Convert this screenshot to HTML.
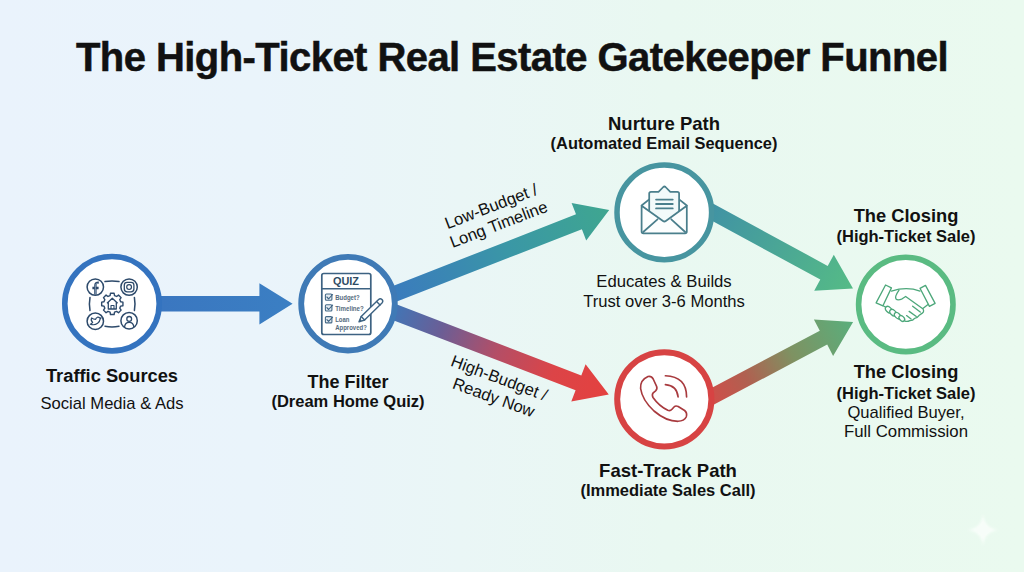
<!DOCTYPE html>
<html><head><meta charset="utf-8">
<style>
html,body{margin:0;padding:0;}
body{width:1024px;height:572px;overflow:hidden;position:relative;font-family:"Liberation Sans",sans-serif;color:#111;
background:linear-gradient(90deg,#eaf3fc 0%,#eaf4fb 25%,#eaf6f6 45%,#e9f8f1 65%,#eafaef 100%);}
svg{position:absolute;left:0;top:0;}
.t{position:absolute;white-space:nowrap;text-align:center;line-height:20px;height:20px;}
.b{font-weight:700;}
</style></head><body>
<svg width="1024" height="572" viewBox="0 0 1024 572">
<defs>
<linearGradient id="g1" gradientUnits="userSpaceOnUse" x1="150" y1="0" x2="292" y2="0"><stop offset="0" stop-color="#3a76c0"/><stop offset="1" stop-color="#3b7fc3"/></linearGradient>
<linearGradient id="g2" gradientUnits="userSpaceOnUse" x1="385" y1="297.6" x2="609" y2="210"><stop offset="0" stop-color="#3b7abf"/><stop offset="0.3" stop-color="#3a88b2"/><stop offset="0.55" stop-color="#3a97a6"/><stop offset="1" stop-color="#3fa690"/></linearGradient>
<linearGradient id="g3" gradientUnits="userSpaceOnUse" x1="385" y1="308.5" x2="609" y2="394.5"><stop offset="0" stop-color="#3b79bb"/><stop offset="0.25" stop-color="#6a5e96"/><stop offset="0.5" stop-color="#b44e66"/><stop offset="0.75" stop-color="#dc4447"/><stop offset="1" stop-color="#e4413f"/></linearGradient>
<linearGradient id="g4" gradientUnits="userSpaceOnUse" x1="700" y1="205" x2="853" y2="288"><stop offset="0" stop-color="#3f90a6"/><stop offset="1" stop-color="#55bb86"/></linearGradient>
<linearGradient id="g5" gradientUnits="userSpaceOnUse" x1="700" y1="401" x2="853" y2="322"><stop offset="0" stop-color="#d84a48"/><stop offset="0.3" stop-color="#b06050"/><stop offset="0.6" stop-color="#7e9262"/><stop offset="1" stop-color="#5aae7c"/></linearGradient>
</defs>
<!-- arrows -->
<path fill="url(#g1)" d="M150.0 311.6 L259.4 311.6 L259.4 324.4 L292.6 303.8 L259.4 283.2 L259.4 296.0 L150.0 296.0 Z"/>
<path fill="url(#g2)" d="M387.9 305.1 L581.9 229.2 L586.2 240.4 L609.2 209.9 L571.6 203.1 L576.0 214.3 L382.1 290.2 Z"/>
<path fill="url(#g3)" d="M382.1 315.9 L575.6 390.3 L571.3 401.5 L608.8 394.5 L585.6 364.2 L581.3 375.4 L387.9 301.1 Z"/>
<path fill="url(#g4)" d="M696.3 212.2 L820.3 279.6 L814.2 290.7 L853.0 288.5 L833.8 254.7 L827.7 265.9 L703.7 198.4 Z"/>
<path fill="url(#g5)" d="M703.7 410.0 L827.2 344.6 L833.1 355.9 L853.1 322.0 L813.9 319.5 L819.8 330.7 L696.3 396.0 Z"/>

<!-- circles -->
<circle cx="112" cy="303.7" r="47.2" fill="#fff" stroke="#3473bf" stroke-width="5.6"/>
<circle cx="348" cy="303.7" r="46.8" fill="#fff" stroke="#3f7ab6" stroke-width="5.8"/>
<circle cx="664.3" cy="212.4" r="47.3" fill="#fff" stroke="#4795a0" stroke-width="5.5"/>
<circle cx="664.3" cy="399.3" r="47.1" fill="#fff" stroke="#d74343" stroke-width="6"/>
<circle cx="905.8" cy="304.4" r="47.2" fill="#fff" stroke="#5abb82" stroke-width="5.6"/>

<!-- traffic icon -->
<g fill="none" stroke="#2d4a6b" stroke-width="1.5" stroke-linecap="round" stroke-linejoin="round">
  <circle cx="95.3" cy="287.1" r="8.2"/>
  <circle cx="129.1" cy="287.1" r="8.2"/>
  <circle cx="95.3" cy="321.2" r="8.2"/>
  <circle cx="129.1" cy="320.7" r="8.2"/>
  <path d="M105 281.6 Q112 280.2 119 281.6"/>
  <path d="M105 326.2 Q112 327.6 119 326.2"/>
  <path d="M90 297.5 Q88.8 303.9 90 310.5"/>
  <path d="M134.4 297.5 Q135.6 303.9 134.4 310.5"/>
</g>
<path d="M95.4 294.6 V285.2 Q95.4 282.4 98.8 282.6 M92.4 288 H98.6" fill="none" stroke="#2d4a6b" stroke-width="2.4"/><path d="M95.4 294 V285.4 Q95.4 283.3 98.4 283.4" fill="none" stroke="#9fb5cc" stroke-width="0.7"/>
<rect x="124.3" y="282.3" width="9.6" height="9.6" rx="2.8" fill="none" stroke="#2d4a6b" stroke-width="1.3"/>
<circle cx="129.1" cy="287.1" r="2.4" fill="none" stroke="#2d4a6b" stroke-width="1.2"/>
<path d="M90.3 324.2 Q94.5 325.6 97.6 323.3 Q99.9 321.4 100.1 319.1 L101.1 317.8 L99.7 318 Q98.8 316.9 97.5 317.2 Q95.9 317.7 95.6 319.4 Q93.4 319.3 91.6 318 Q90.4 320.6 92.7 322.4 Q91.6 323.7 90.3 324.2 Z" fill="none" stroke="#2d4a6b" stroke-width="1.2" stroke-linejoin="round"/>
<circle cx="129.2" cy="318.9" r="2.4" fill="none" stroke="#2d4a6b" stroke-width="1.3"/>
<path d="M124.5 327.3 Q125 322.4 129.2 322.4 Q133.4 322.4 133.9 327.3" fill="none" stroke="#2d4a6b" stroke-width="1.3"/>
<g fill="none" stroke="#2d4a6b" stroke-width="1.4" stroke-linejoin="round">
  <path d="M120.61 301.69 L122.94 302.07 L122.94 305.73 L120.61 306.11 L119.74 308.21 L121.12 310.13 L118.53 312.72 L116.61 311.34 L114.51 312.21 L114.13 314.54 L110.47 314.54 L110.09 312.21 L107.99 311.34 L106.07 312.72 L103.48 310.13 L104.86 308.21 L103.99 306.11 L101.66 305.73 L101.66 302.07 L103.99 301.69 L104.86 299.59 L103.48 297.67 L106.07 295.08 L107.99 296.46 L110.09 295.59 L110.47 293.26 L114.13 293.26 L114.51 295.59 L116.61 296.46 L118.53 295.08 L121.12 297.67 L119.74 299.59 Z"/>
  <path d="M107 303.3 L112.3 298.2 L117.6 303.3 M108.3 302.2 V309 H116.3 V302.2" stroke-width="1.3"/>
  <path d="M111 309 V305.5 H114 V309" stroke-width="1.1"/>
</g>

<!-- quiz icon -->
<g fill="none" stroke="#3d6282" stroke-width="1.7" stroke-linejoin="round">
  <rect x="321.8" y="273.5" width="49" height="61" rx="2"/>
  <path d="M322 288.8 H370.5" stroke-width="1.6"/>
</g>
<g fill="#e3eaf0" stroke="#456a88" stroke-width="1.1" stroke-linejoin="round">
  <rect x="325.4" y="294" width="6.5" height="6.3" rx="1"/>
  <rect x="325.4" y="304.7" width="6.5" height="6.3" rx="1"/>
  <rect x="325.4" y="316.6" width="6.5" height="6.3" rx="1"/>
</g>
<g fill="none" stroke="#3d6282" stroke-width="1.1" stroke-linecap="round" stroke-linejoin="round">
  <path d="M326.9 297 l1.7 1.8 l4 -4.3"/>
  <path d="M326.9 307.7 l1.7 1.8 l4 -4.3"/>
  <path d="M326.9 319.6 l1.7 1.8 l4 -4.3"/>
</g>
<g fill="#fff" stroke="#3d6282" stroke-width="1.4" stroke-linejoin="round" stroke-linecap="round">
  <path d="M359 321.8 L361.2 316.6 L378.6 299.5 Q380.3 297.9 382 299.6 Q383.6 301.3 382 303 L364.6 320 Z"/>
  <path d="M361.2 316.6 L364.6 320"/>
  <path d="M376.6 301.6 L380 305"/>
</g>
<path d="M359 321.8 L360.2 318.8 L362 320.6 Z" fill="#3d6282"/>
<text x="333" y="284.9" font-family="Liberation Sans" font-size="10.2" font-weight="700" fill="#2e4b64" textLength="26" lengthAdjust="spacingAndGlyphs">QUIZ</text>
<g font-family="Liberation Sans" font-size="7.3" font-weight="700" fill="#566b7d">
<text x="335.2" y="300.2" textLength="24.4" lengthAdjust="spacingAndGlyphs">Budget?</text>
<text x="335.2" y="311" textLength="28.6" lengthAdjust="spacingAndGlyphs">Timeline?</text>
<text x="335.2" y="322.2" textLength="14.3" lengthAdjust="spacingAndGlyphs">Loan</text>
<text x="335.2" y="329.6" textLength="31.6" lengthAdjust="spacingAndGlyphs">Approved?</text>
</g>

<!-- envelope icon -->
<g fill="none" stroke="#4a7f8c" stroke-width="1.75" stroke-linejoin="round" stroke-linecap="round">
  <path d="M641.6 205.5 L649.2 199.4 M686.8 205.5 L679.1 199.4"/>
  <path fill="#f2fafa" d="M649.2 222 V193.6 Q649.2 191.8 651 191.8 H658.5 L663.3 187 Q664.4 186 665.5 187 L670.3 191.8 H677.3 Q679.1 191.8 679.1 193.6 V222 Z"/>
  <path d="M656.1 199.6 H672.7 M656.1 204 H672.7 M656.1 208.4 H672.7" stroke-width="1.9"/>
  <path fill="#fcfefe" d="M641.6 205.8 L663 221 Q664.4 222 665.8 221 L686.8 205.8 V231.6 Q686.8 233.4 685 233.4 H643.4 Q641.6 233.4 641.6 231.6 Z"/>
  <path d="M643.2 232 L657.5 219.3 M685.2 232 L671.3 219.3"/>
</g>

<!-- phone icon -->
<g fill="none" stroke="#a83a3e" stroke-width="1.65" stroke-linecap="round" stroke-linejoin="round">
  <path d="M648 376.5 Q651.5 375.8 653.2 379 L656.6 386.3 Q657.6 389 655.6 390.8 L653.2 392.8 Q651.6 394.8 653 397.5 Q659 406 667.8 410.3 Q670.2 411.3 672 409.3 L674 407 Q675.6 405.3 678.2 406.5 L684.6 410.5 Q687.6 413 686.2 417 Q684.2 421 678 421.3 Q666 421.3 654 411 Q642.2 400 640.6 388.5 Q640 380 648 376.5 Z"/>
  <path d="M665.4 384.6 Q677 385.6 678.1 396.9"/>
  <path d="M665.4 375.8 Q686.5 376.5 686.6 396.9"/>
</g>

<!-- handshake icon -->
<g transform="translate(870 278) scale(0.0874)" fill="#fff" stroke="#4ca77a" stroke-width="15" stroke-linejoin="round" stroke-linecap="round">
  <path d="M245 150 Q420 95 572 150" fill="none"/>
  <path d="M150 318 L200 345 M660 305 L605 348" fill="none"/>
  <path d="M332 140 Q280 215 298 240 Q318 262 368 238 L408 212 L600 348 Q628 378 598 402 L560 430 Q540 460 510 462 Q490 490 455 488 Q425 505 395 490" fill="none"/>
  <path d="M488 322 L575 390 M448 382 L530 440 M418 430 L470 470" fill="none"/>
  <ellipse cx="214" cy="362" rx="44" ry="29" transform="rotate(45 214 362)"/>
  <ellipse cx="264" cy="397" rx="44" ry="29" transform="rotate(45 264 397)"/>
  <ellipse cx="315" cy="431" rx="42" ry="28" transform="rotate(45 315 431)"/>
  <ellipse cx="364" cy="463" rx="38" ry="26" transform="rotate(45 364 463)"/>
  <path d="M178 80 L245 113 L148 318 L70 285 Z"/>
  <path d="M572 118 L635 85 L745 290 L680 325 Z"/>
</g>
</svg>

<div class="t b" style="left:1px;width:1022px;top:35px;font-size:40px;line-height:44px;height:44px;letter-spacing:-0.56px;-webkit-text-stroke:0.5px #111">The High-Ticket Real Estate Gatekeeper Funnel</div>

<div class="t b" style="left:12px;width:200px;top:366px;font-size:18.3px">Traffic Sources</div>
<div class="t" style="left:12px;width:200px;top:394px;font-size:16.6px">Social Media &amp; Ads</div>

<div class="t b" style="left:248px;width:200px;top:372px;font-size:18px">The Filter</div>
<div class="t b" style="left:248px;width:200px;top:391px;font-size:16.5px">(Dream Home Quiz)</div>

<div class="t b" style="left:564px;width:200px;top:114px;font-size:18.5px">Nurture Path</div>
<div class="t b" style="left:544px;width:240px;top:133px;font-size:16.4px">(Automated Email Sequence)</div>
<div class="t" style="left:564px;width:200px;top:272px;font-size:16.7px">Educates &amp; Builds</div>
<div class="t" style="left:564px;width:200px;top:292px;font-size:16.6px">Trust over 3-6 Months</div>

<div class="t b" style="left:568px;width:200px;top:461px;font-size:18.5px">Fast-Track Path</div>
<div class="t b" style="left:568px;width:200px;top:480px;font-size:16.5px">(Immediate Sales Call)</div>

<div class="t b" style="left:806px;width:200px;top:206px;font-size:18.3px">The Closing</div>
<div class="t b" style="left:806px;width:200px;top:226px;font-size:16.5px">(High-Ticket Sale)</div>
<div class="t b" style="left:806px;width:200px;top:362px;font-size:18.3px">The Closing</div>
<div class="t b" style="left:806px;width:200px;top:383px;font-size:16.5px">(High-Ticket Sale)</div>
<div class="t" style="left:806px;width:200px;top:403px;font-size:16.6px">Qualified Buyer,</div>
<div class="t" style="left:806px;width:200px;top:422px;font-size:16.8px">Full Commission</div>

<svg width="1024" height="572" viewBox="0 0 1024 572" style="position:absolute;left:0;top:0">
<g font-family="Liberation Sans" font-size="16.6" fill="#111">
<text transform="translate(447.5 229.2) rotate(-21)">Low-Budget /</text>
<text transform="translate(452.4 248.1) rotate(-21)">Long Timeline</text>
<text transform="translate(449.8 365.6) rotate(20.5)">High-Budget /</text>
<text transform="translate(451.5 388) rotate(20)">Ready Now</text>
</g>
</svg>
<svg width="1024" height="572" style="position:absolute;left:0;top:0"><defs><filter id="bl" x="-50%" y="-50%" width="200%" height="200%"><feGaussianBlur stdDeviation="1.2"/></filter></defs><path d="M983 514 Q984.5 528.5 999 530 Q984.5 531.5 983 546 Q981.5 531.5 967 530 Q981.5 528.5 983 514 Z" fill="#fafefb" opacity="0.85" filter="url(#bl)"/></svg>
</body></html>
